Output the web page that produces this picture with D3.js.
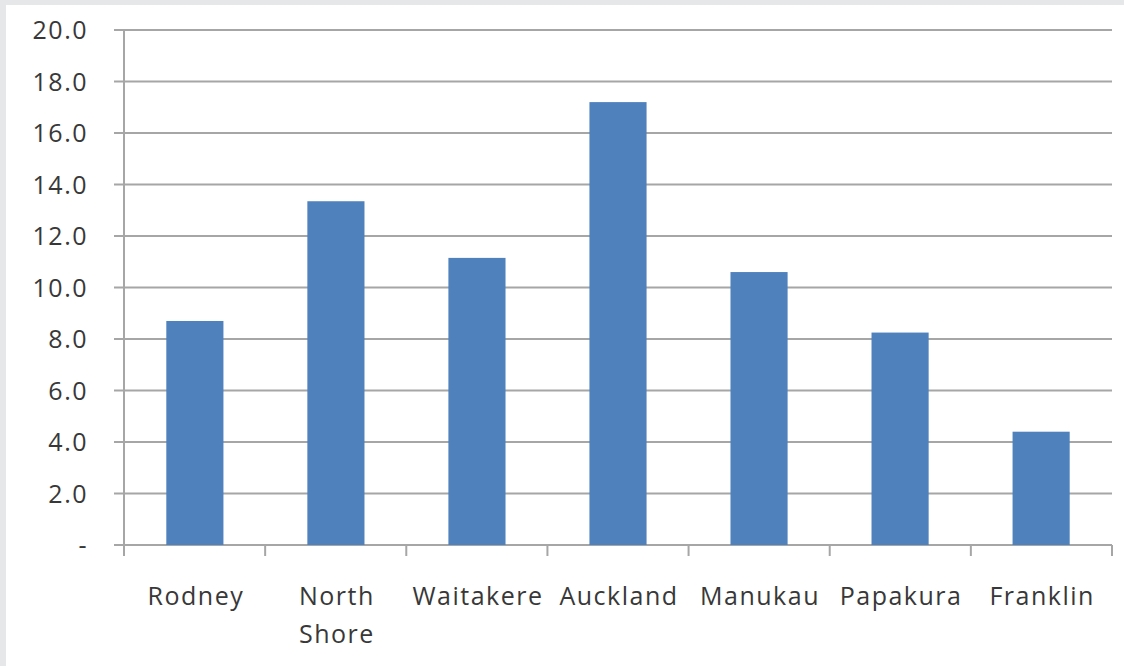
<!DOCTYPE html>
<html><head><meta charset="utf-8">
<script src="https://cdn.jsdelivr.net/npm/d3@7"></script>
<style>body{margin:0;background:#e6e7e9;}svg{display:block;}</style>
</head><body>
<svg id="chart" width="1124" height="666"></svg>
<script>
const categories = ["Rodney", "North Shore", "Waitakere", "Auckland", "Manukau", "Papakura", "Franklin"];
const values = [8.7, 13.35, 11.15, 17.2, 10.6, 8.25, 4.4];
const yTicks = [0, 2, 4, 6, 8, 10, 12, 14, 16, 18, 20];

(function() {
const svg = d3.select("#chart");
svg.append("rect").attr("x", 0).attr("y", 0).attr("width", 1124).attr("height", 666).attr("fill", "#e6e7e9");
svg.append("rect").attr("x", 6).attr("y", 5).attr("width", 1118).attr("height", 661).attr("fill", "#ffffff");

const pLeft = 124, pRight = 1112, pTop = 30, pBottom = 545;
const x = d3.scaleBand().domain(categories).range([pLeft, pRight]).paddingInner(0.595).paddingOuter(0.3);
const y = d3.scaleLinear().domain([0, 20]).range([pBottom, pTop]);
const font = "'Open Sans', Lato, sans-serif";
const txt = "#383838";

// gridlines
svg.append("g").selectAll("line").data(yTicks).join("line")
  .attr("x1", pLeft - 10).attr("x2", pRight)
  .attr("y1", d => y(d)).attr("y2", d => y(d))
  .attr("stroke", "#a6a6a6").attr("stroke-width", 2);

// y axis line
svg.append("line").attr("x1", pLeft).attr("x2", pLeft).attr("y1", pTop).attr("y2", pBottom + 11)
  .attr("stroke", "#a6a6a6").attr("stroke-width", 2);

// x ticks at category boundaries
const step = (pRight - pLeft) / categories.length;
const bounds = d3.range(categories.length + 1).map(i => pLeft + i * step);
svg.append("g").selectAll("line").data(bounds.slice(1)).join("line")
  .attr("x1", d => d).attr("x2", d => d).attr("y1", pBottom).attr("y2", pBottom + 11)
  .attr("stroke", "#a6a6a6").attr("stroke-width", 2);

// bars
svg.append("g").selectAll("rect").data(categories).join("rect")
  .attr("x", d => x(d)).attr("width", x.bandwidth())
  .attr("y", (d, i) => y(values[i])).attr("height", (d, i) => y(0) - y(values[i]))
  .attr("fill", "#4f81bd");

// y labels
svg.append("g").selectAll("text").data(yTicks).join("text")
  .attr("x", 88).attr("y", d => y(d)).attr("dy", "0.36em")
  .attr("text-anchor", "end").attr("font-family", font).attr("font-size", 25)
  .attr("letter-spacing", 1.5).attr("fill", txt)
  .text(d => d === 0 ? "-" : d.toFixed(1));

// x labels
const xl = svg.append("g").selectAll("text").data(categories).join("text")
  .attr("x", d => x(d) + x.bandwidth() / 2).attr("y", 605)
  .attr("text-anchor", "middle").attr("font-family", font).attr("font-size", 25)
  .attr("letter-spacing", 1.5).attr("fill", txt);
xl.each(function(d) {
  const parts = d === "North Shore" ? ["North", "Shore"] : [d];
  const t = d3.select(this);
  parts.forEach((p, i) => t.append("tspan").attr("x", x(d) + x.bandwidth() / 2 + 1).attr("dy", i === 0 ? 0 : 38).text(p));
});
})();
</script>
</body></html>
